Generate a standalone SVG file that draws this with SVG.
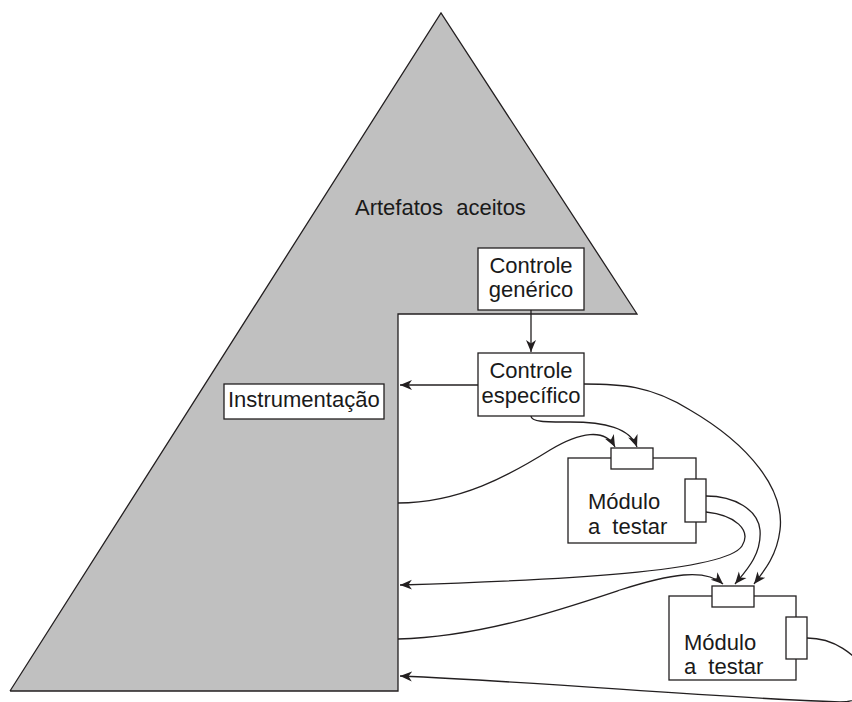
<svg xmlns="http://www.w3.org/2000/svg" width="852" height="702" viewBox="0 0 852 702">
<style>
.t{font-family:"Liberation Sans",Arial,sans-serif;font-size:22px;fill:#1a1a1a}
.box{fill:#fff;stroke:#231f20;stroke-width:1.3}
.ln{fill:none;stroke:#231f20;stroke-width:1.3}
.c{fill:none;stroke:#231f20;stroke-width:1.3;marker-end:url(#ah)}
</style>
<defs>
<marker id="ah" markerUnits="userSpaceOnUse" markerWidth="14" markerHeight="12" refX="12" refY="5" orient="auto" viewBox="0 0 14 10">
<path d="M0,0 L12,5 L0,10 L3.5,5 z" fill="#231f20"/>
</marker>
</defs>
<g id="piramide">
<polygon points="441,13 637,314 398,314 398,691 10,691" fill="#c0c0c0" stroke="none"/>
<polyline points="10,691 441,13 637,314 398,314 398,691 10,691" fill="none" stroke="#231f20" stroke-width="1.3"/>
<text class="t" x="355" y="215" word-spacing="7">Artefatos aceitos</text>
</g>
<g id="instrumentacao">
<rect class="box" x="224" y="384" width="160" height="35"/>
<text class="t" x="228" y="407">Instrumentação</text>
</g>
<g id="controle-generico">
<rect class="box" x="478" y="248" width="106" height="62"/>
<text class="t" x="531" y="273" text-anchor="middle">Controle</text>
<text class="t" x="531" y="297" text-anchor="middle">genérico</text>
</g>
<g id="controle-especifico">
<rect class="box" x="478" y="353" width="106" height="63"/>
<text class="t" x="531" y="378" text-anchor="middle">Controle</text>
<text class="t" x="531" y="403" text-anchor="middle">específico</text>
</g>
<g id="modulo1">
<rect class="box" x="568" y="458" width="128" height="85"/>
<rect class="box" x="611" y="448" width="42" height="21"/>
<rect class="box" x="685" y="479" width="21" height="43"/>
<text class="t" x="588" y="509">Módulo</text>
<text class="t" x="588" y="534" word-spacing="6">a testar</text>
</g>
<g id="modulo2">
<rect class="box" x="669" y="596" width="127" height="84"/>
<rect class="box" x="712" y="586" width="42" height="21"/>
<rect class="box" x="786" y="617" width="21" height="42"/>
<text class="t" x="684" y="650">Módulo</text>
<text class="t" x="684" y="674" word-spacing="6">a testar</text>
</g>
<g id="conectores">
<path class="c" d="M531,310 L531,352"/>
<path class="c" d="M478,385 L400,385"/>
<path class="c" d="M531,416 C531,422 545,422 570,422 C605,422 630,428 637,447"/>
<path class="c" d="M398,503 C460,503 510,475 550,450 C580,432 605,428 615,447"/>
<path class="c" d="M584,384 C620,384 650,385 690,410 C750,445 785,490 780,530 C777,555 765,570 754,584"/>
<path class="c" d="M706,496 C735,496 758,510 760,530 C762,555 745,572 735,584"/>
<path class="c" d="M706,512 C735,515 752,530 742,546 C725,572 560,580 400,585"/>
<path class="c" d="M398,639 C480,637 560,610 620,590 C670,574 705,568 723,584"/>
<path class="c" d="M807,638 C835,638 855,655 865,670 C875,690 862,702 840,702 C700,697 560,683 400,676"/>
</g>
</svg>
